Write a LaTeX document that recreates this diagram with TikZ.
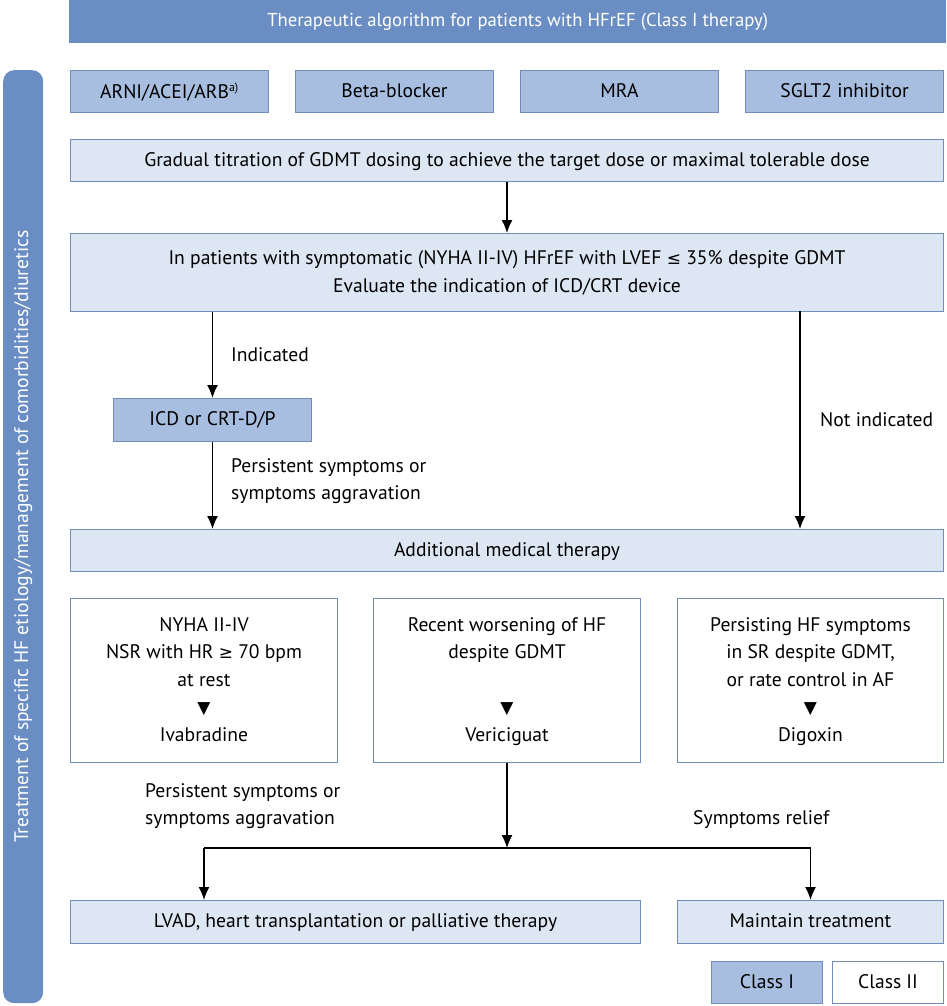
\documentclass[tikz,border=0pt]{standalone}
\usepackage{fontspec}
\setmainfont{PT Sans}
\newfontfamily\dvs{DejaVu Sans}
\usetikzlibrary{arrows.meta,calc}
\definecolor{hdr}{RGB}{106,142,195}
\definecolor{cone}{RGB}{168,190,224}
\definecolor{lite}{RGB}{221,230,243}
\definecolor{bord}{RGB}{112,140,185}
\newcommand{\tri}{{\dvs\fontsize{17}{27.5}\selectfont ▼}}
\newcommand{\gesym}{{\dvs\fontsize{17}{27.5}\selectfont ≥}}
\newcommand{\lesym}{{\dvs\fontsize{17}{27.5}\selectfont ≤}}
\begin{document}
\begin{tikzpicture}[x=1pt,y=-1pt,
  font=\fontsize{19.6}{27.5}\selectfont,
  base/.style={draw=bord,line width=1pt,anchor=north west,inner sep=0pt,align=center,text depth=2pt},
  clsone/.style={base,fill=cone},
  litebox/.style={base,fill=lite},
  whitebox/.style={base,fill=white},
  arr/.style={-{Latex[length=13pt,width=11pt]},line width=1.4pt},
  ln/.style={line width=1.4pt},
  lbl/.style={anchor=west,inner sep=0pt,align=left}]
\useasboundingbox (0,0) rectangle (946,1006);
% header
\node[anchor=north west,fill=hdr,minimum width=877pt,minimum height=43pt,inner sep=0pt] (hdr) at (69,0) {};
\node[text=white,font=\fontsize{18.7}{24}\selectfont] (hdrtxt) at ([xshift=10pt]hdr.center) {Therapeutic algorithm for patients with HFrEF (Class I therapy)};
% sidebar
\node[anchor=north west,fill=hdr,rounded corners=11pt,minimum width=40pt,minimum height=933pt,inner sep=0pt] (side) at (3,70) {};
\node[rotate=90,text=white] (sidetxt) at (side.center) {Treatment of specific HF etiology/management of comorbidities/diuretics};
% top row
\node[clsone,minimum width=198pt,minimum height=42pt] (arni) at (70,70) {ARNI/ACEI/ARB\textsuperscript{\fontsize{12}{12}\selectfont a)}};
\node[clsone,minimum width=198pt,minimum height=42pt] (beta) at (295,70) {Beta-blocker};
\node[clsone,minimum width=198pt,minimum height=42pt] (mra) at (520,70) {MRA};
\node[clsone,minimum width=198pt,minimum height=42pt] (sglt) at (745,70) {SGLT2 inhibitor};
\node[litebox,minimum width=873pt,minimum height=42pt] (tit) at (70,139) {Gradual titration of GDMT dosing to achieve the target dose or maximal tolerable dose};
\node[litebox,minimum width=873pt,minimum height=78pt] (eval) at (70,233) {In patients with symptomatic (NYHA II-IV) HFrEF with LVEF \lesym{} 35\% despite GDMT\\Evaluate the indication of ICD/CRT device};
\node[clsone,minimum width=198pt,minimum height=43pt] (icd) at (113,398) {ICD or CRT-D/P};
\node[litebox,minimum width=873pt,minimum height=42pt] (add) at (70,529) {Additional medical therapy};
\node[whitebox,minimum width=267pt,minimum height=164pt] (iva) at (70,598) {NYHA II-IV\\NSR with HR \gesym{} 70 bpm\\at rest\\\tri\\Ivabradine};
\node[whitebox,minimum width=267pt,minimum height=164pt] (veri) at (373,598) {Recent worsening of HF\\despite GDMT\\\mbox{}\\\tri\\Vericiguat};
\node[whitebox,minimum width=266pt,minimum height=164pt] (dig) at (677,598) {Persisting HF symptoms\\in SR despite GDMT,\\or rate control in AF\\\tri\\Digoxin};
\node[litebox,minimum width=570pt,minimum height=43pt] (lvad) at (70,900) {LVAD, heart transplantation or palliative therapy};
\node[litebox,minimum width=266pt,minimum height=43pt] (keep) at (677,900) {Maintain treatment};
\node[clsone,minimum width=111pt,minimum height=42pt] (c1) at (711,961) {Class I};
\node[whitebox,minimum width=111pt,minimum height=42pt] (c2) at (832,961) {Class II};
% labels
\node[lbl] (lind) at (231,355) {Indicated};
\node[lbl] (lpers) at (231,481) {Persistent symptoms or\\symptoms aggravation};
\node[lbl] (lnot) at (820,420) {Not indicated};
\node[lbl] (lpers2) at (145,806) {Persistent symptoms or\\symptoms aggravation};
\node[lbl] (lrel) at (693,820) {Symptoms relief};
% connectors
\coordinate (r) at (800,311);
\coordinate (j) at (veri.south |- 0,848);
\coordinate (jl) at (204,848);
\coordinate (jr) at (keep.north |- 0,848);
\draw[arr] (tit.south) -- (eval.north);
\draw[arr] (eval.south -| icd.north) -- (icd.north);
\draw[arr] (icd.south) -- (icd.south |- add.north);
\draw[arr] (r) -- (r |- add.north);
\draw[arr] (veri.south) -- (j);
\draw[ln] (jl) -- (jr);
\draw[arr] (jl) -- (jl |- lvad.north);
\draw[arr] (jr) -- (keep.north);
\end{tikzpicture}
\end{document}
